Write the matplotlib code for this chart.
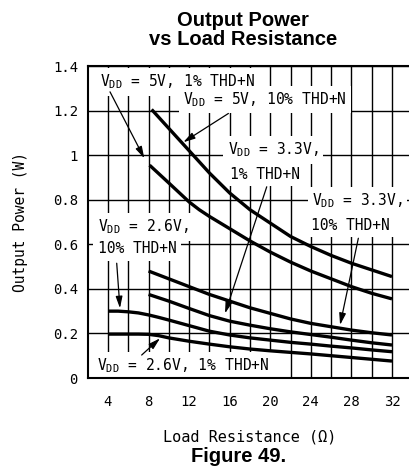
import matplotlib
matplotlib.use("Agg")
import matplotlib.pyplot as plt

# output power curves, read per load resistance (ohms) -> watts
r_5v_10 = [8.3, 10, 12, 14, 16, 18, 20, 22, 24, 26, 28, 30, 32]
p_5v_10 = [1.205, 1.12, 1.02, 0.92, 0.83, 0.755, 0.695, 0.635, 0.59, 0.55, 0.515, 0.485, 0.455]

r_5v_1 = [8.1, 10, 12, 13, 14, 16, 18, 20, 22, 24, 26, 28, 30, 32]
p_5v_1 = [0.955, 0.875, 0.79, 0.755, 0.725, 0.67, 0.615, 0.565, 0.52, 0.48, 0.445, 0.41, 0.38, 0.355]

r_33v = [8, 10, 12, 14, 16, 18, 20, 22, 24, 26, 28, 30, 32]
p_33v_10 = [0.48, 0.445, 0.41, 0.375, 0.345, 0.315, 0.29, 0.265, 0.245, 0.23, 0.215, 0.203, 0.193]
p_33v_1 = [0.375, 0.345, 0.312, 0.28, 0.255, 0.237, 0.221, 0.207, 0.195, 0.183, 0.17, 0.158, 0.148]

r_26v = [4, 5, 6, 7, 8, 9, 10, 12, 14, 16, 18, 20, 22, 24, 26, 28, 30, 32]
p_26v_10 = [0.30, 0.30, 0.297, 0.292, 0.283, 0.272, 0.26, 0.235, 0.21, 0.193, 0.18, 0.17, 0.16, 0.152, 0.143, 0.135, 0.126, 0.118]
p_26v_1 = [0.197, 0.197, 0.197, 0.197, 0.196, 0.19, 0.18, 0.165, 0.152, 0.14, 0.13, 0.122, 0.115, 0.108, 0.10, 0.092, 0.084, 0.076]

x_ticks = [4, 8, 12, 16, 20, 24, 28, 32]
y_ticks = [0, 0.2, 0.4, 0.6, 0.8, 1.0, 1.2, 1.4]
y_tick_labels = ["0", "0.2", "0.4", "0.6", "0.8", "1", "1.2", "1.4"]

mono = "DejaVu Sans Mono"
plt.rcParams["mathtext.fontset"] = "custom"
plt.rcParams["mathtext.rm"] = mono
plt.rcParams["font.family"] = mono

fig = plt.figure(figsize=(4.09, 4.74), dpi=100)
ax = fig.add_axes([87.7 / 409, 96 / 474, 324.6 / 409, 312 / 474])

ax.set_xlim(2, 34)
ax.set_ylim(0, 1.4)
ax.set_xticks(x_ticks)
ax.set_xticks([6, 10, 14, 18, 22, 26, 30], minor=True)
ax.set_yticks(y_ticks)
ax.set_yticklabels(y_tick_labels)
ax.tick_params(which="both", length=0, labelsize=10)
ax.tick_params(axis="x", pad=12)
ax.tick_params(axis="y", pad=7)
ax.set_axisbelow(True)
ax.grid(which="both", color="black", lw=1.0)
for side in ["left", "bottom", "top"]:
    ax.spines[side].set_linewidth(1.5)
    ax.spines[side].set_zorder(6)
ax.spines["right"].set_visible(False)

curve_kw = dict(color="black", lw=2.4, solid_capstyle="butt", zorder=4)
ax.plot(r_5v_10, p_5v_10, **curve_kw)
ax.plot(r_5v_1, p_5v_1, **curve_kw)
ax.plot(r_33v, p_33v_10, **curve_kw)
ax.plot(r_33v, p_33v_1, **curve_kw)
ax.plot(r_26v, p_26v_10, **curve_kw)
ax.plot(r_26v, p_26v_1, **curve_kw)

box = dict(boxstyle="square,pad=0.3", fc="white", ec="none")
vdd = r"V$_{\mathrm{DD}}$"
labels = [
    (3.2, 1.328, vdd + " = 5V, 1% THD+N"),
    (11.4, 1.25, vdd + " = 5V, 10% THD+N"),
    (15.8, 1.023, vdd + " = 3.3V,"),
    (16.0, 0.915, "1% THD+N"),
    (24.1, 0.794, vdd + " = 3.3V,"),
    (24.0, 0.686, "10% THD+N"),
    (3.0, 0.677, vdd + " = 2.6V,"),
    (3.0, 0.579, "10% THD+N"),
    (2.9, 0.054, vdd + " = 2.6V, 1% THD+N"),
]
for x, y, s in labels:
    ax.text(x, y, s, fontsize=10.5, ha="left", va="center", bbox=box, zorder=3)

arrow = dict(arrowstyle="-|>,head_length=0.7,head_width=0.2", color="black",
             lw=0.9, shrinkA=0, shrinkB=0)
pointers = [
    ((4.2, 1.284), (7.58, 0.986)),
    ((15.87, 1.187), (11.43, 1.058)),
    ((19.65, 0.858), (15.54, 0.29)),
    ((28.68, 0.627), (26.88, 0.238)),
    ((4.86, 0.515), (5.18, 0.313)),
    ((7.32, 0.103), (9.13, 0.178)),
]
for tail, tip in pointers:
    ax.annotate("", xy=tip, xytext=tail, arrowprops=arrow, zorder=5)

fig.text(21 / 409, 1 - 222 / 474, "Output Power (W)", rotation=90,
         ha="center", va="center", fontsize=10.5)
fig.text(250 / 409, 1 - 437 / 474, "Load Resistance (Ω)",
         ha="center", va="center", fontsize=11)
fig.text(243 / 409, 1 - 30 / 474, "Output Power\nvs Load Resistance",
         ha="center", va="center", fontsize=14.5, fontweight="bold",
         family="Liberation Sans", linespacing=1.05)
fig.text(239 / 409, 1 - 457 / 474, "Figure 49.", ha="center", va="center",
         fontsize=14.5, fontweight="bold", family="Liberation Sans")

fig.savefig("out.png", dpi=100)
